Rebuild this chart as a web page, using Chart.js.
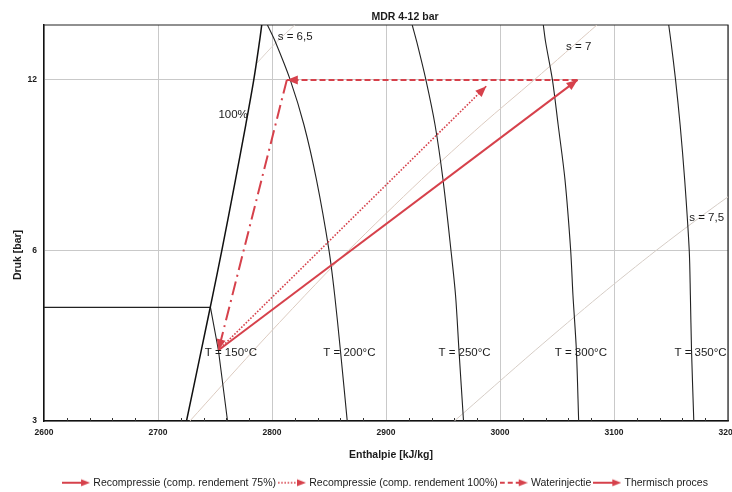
<!DOCTYPE html>
<html>
<head>
<meta charset="utf-8">
<title>MDR 4-12 bar</title>
<script src="https://cdn.jsdelivr.net/npm/chart.js@4.4.1/dist/chart.umd.min.js"></script>
<style>
  html, body { margin: 0; padding: 0; background: #fff; overflow: hidden; }
  #wrap { width: 732px; height: 492px; position: relative; }
</style>
</head>
<body>
<div id="wrap"><canvas id="chart"></canvas></div>
<script>
// ---- axis ticks ----
const enthalpyTicks = [2600, 2700, 2800, 2900, 3000, 3100, 3200];   // kJ/kg
const pressureTicks = [3, 6, 12];                                    // bar

// ---- steam curves, tabulated at these pressures (bar) ----
const pressures = [3, 4, 5, 6, 8, 10, 12, 14, 15];
// saturated vapour line (x = 100%)
const hSatVapour = [2725, 2738, 2748, 2756, 2768, 2777, 2784, 2789, 2791];
// isotherms, enthalpy in kJ/kg
const hT200 = [2866, 2860, 2855, 2850, 2839, 2828, 2816, 2803, 2796];
const hT250 = [2968, 2964, 2961, 2957, 2950, 2943, 2935, 2927, 2923];
const hT300 = [3069, 3067, 3064, 3062, 3057, 3051, 3046, 3040, 3038];
const hT350 = [3170, 3168, 3167, 3166, 3162, 3158, 3154, 3150, 3148];
// 150 °C: superheated branch, then the constant-pressure line through the wet region
const pT150 = [3, 4, 4.76, 4.76];
const hT150 = [2761, 2753, 2746, 2600];

// isentropes (kJ/kg·K)
const pS65 = [12.8, 14, 15];
const hS65 = [2786, 2804, 2820];
const pS70 = [3, 4, 5, 6, 8, 10, 12, 15];
const hS70 = [2728, 2784, 2829, 2867, 2931, 2984, 3030, 3085];
const pS75 = [3, 4, 5, 6, 7, 8];
const hS75 = [2960, 3031, 3088, 3137, 3181, 3221];

// ---- MDR process: 4 bar / 150 °C compressed to 12 bar ----
const hRecomp75 = [2753, 3068];   const pRecomp75 = [4, 12];
const hRecomp100 = [2753, 2988];  const pRecomp100 = [4, 11.7];
const hWaterInj = [3068, 2813];   const pWaterInj = [12, 12];
const hThermal = [2813, 2753];    const pThermal = [12, 4];

const FONT = 'Liberation Sans, Arial, Helvetica, sans-serif';
const RED = '#d6414b';
const GRID = '#c9c9c9';
const INK = '#1b1b1b';

Chart.defaults.font.family = FONT;
Chart.defaults.color = INK;

const xy = (hs, ps) => hs.map((h, i) => ({ x: h, y: ps[i] }));

// small line + arrowhead picture used as legend symbol
function legendIcon(dash, lineWidth) {
  const c = document.createElement('canvas');
  c.width = 28; c.height = 10;
  const g = c.getContext('2d');
  g.strokeStyle = RED; g.fillStyle = RED;
  g.lineWidth = lineWidth;
  g.setLineDash(dash);
  g.beginPath(); g.moveTo(0, 5); g.lineTo(20, 5); g.stroke();
  g.setLineDash([]);
  g.beginPath(); g.moveTo(28, 5); g.lineTo(19, 1.5); g.lineTo(19, 8.5); g.closePath(); g.fill();
  return c;
}

function processLine(label, hs, ps, dash, width, iconDash) {
  return {
    label, data: xy(hs, ps), showLine: true,
    borderColor: RED, backgroundColor: RED, borderWidth: width, borderDash: dash,
    pointRadius: 0, pointHoverRadius: 0, arrow: true,
    icon: legendIcon(iconDash, width)
  };
}

function curve(label, hs, ps, color, width, tension) {
  return {
    label, data: xy(hs, ps), showLine: true, tension,
    borderColor: color, borderWidth: width, pointRadius: 0, pointHoverRadius: 0
  };
}

// text placed on the diagram, anchored in (enthalpy, pressure)
const curveNotes = [
  { text: 's = 6,5', h: 2805, p: 14.3 },
  { text: 's = 7', h: 3058, p: 13.7 },
  { text: 's = 7,5', h: 3166, p: 6.85 },
  { text: '100%', h: 2753, p: 10.4 },
  { text: 'T = 150°C', h: 2741, p: 3.96 },
  { text: 'T = 200°C', h: 2845, p: 3.96 },
  { text: 'T = 250°C', h: 2946, p: 3.96 },
  { text: 'T = 300°C', h: 3048, p: 3.96 },
  { text: 'T = 350°C', h: 3153, p: 3.96 }
];

const diagramExtras = {
  id: 'diagramExtras',
  afterLayout(chart) {
    // nudge the chart title and the axis titles sideways
    const t = chart.titleBlock;
    if (t) { t.left += 41; t.right += 41; }
    const shift = (scale, dx, dy) => {
      if (!scale || scale._titleShifted) return;
      const draw = scale.drawTitle.bind(scale);
      scale.drawTitle = function () {
        this.ctx.save(); this.ctx.translate(dx, dy); draw(); this.ctx.restore();
      };
      scale._titleShifted = true;
    };
    shift(chart.scales.x, 5, 0);
    shift(chart.scales.y, 0, 32);
  },
  beforeDatasetsDraw(chart) {
    const { ctx, chartArea: a, scales: { x } } = chart;
    ctx.save();
    // top and right frame
    ctx.strokeStyle = '#222';
    ctx.lineWidth = 1.2;
    ctx.beginPath();
    ctx.moveTo(a.left, a.top); ctx.lineTo(a.right, a.top); ctx.lineTo(a.right, a.bottom);
    ctx.stroke();
    // minor ticks on the enthalpy axis, every 20 kJ/kg
    ctx.strokeStyle = '#333';
    ctx.lineWidth = 1;
    ctx.beginPath();
    for (let h = 2620; h < 3200; h += 20) {
      if (h % 100 === 0) continue;
      const px = Math.round(x.getPixelForValue(h)) + 0.5;
      ctx.moveTo(px, a.bottom); ctx.lineTo(px, a.bottom - 3);
    }
    ctx.stroke();
    ctx.restore();
  },
  afterDatasetsDraw(chart) {
    const { ctx, scales: { x, y } } = chart;
    ctx.save();
    // arrowheads at the end of each process step
    chart.data.datasets.forEach((ds, i) => {
      if (!ds.arrow) return;
      const pts = chart.getDatasetMeta(i).data;
      const a = pts[pts.length - 2], b = pts[pts.length - 1];
      const ang = Math.atan2(b.y - a.y, b.x - a.x);
      ctx.save();
      ctx.translate(b.x, b.y);
      ctx.rotate(ang);
      ctx.fillStyle = ds.borderColor;
      ctx.beginPath();
      ctx.moveTo(0, 0); ctx.lineTo(-11, -4.5); ctx.lineTo(-11, 4.5); ctx.closePath();
      ctx.fill();
      ctx.restore();
    });
    // curve names
    ctx.font = '11.5px ' + FONT;
    ctx.fillStyle = INK;
    ctx.textAlign = 'left';
    ctx.textBaseline = 'middle';
    curveNotes.forEach(n => {
      ctx.fillText(n.text, x.getPixelForValue(n.h), y.getPixelForValue(n.p));
    });
    ctx.restore();
  }
};

new Chart(document.getElementById('chart'), {
  type: 'scatter',
  data: {
    datasets: [
      processLine('Recompressie (comp. rendement 75%)', hRecomp75, pRecomp75, [], 2, []),
      processLine('Recompressie (comp. rendement 100%)', hRecomp100, pRecomp100, [1.6, 1.6], 1.6, [1.6, 1.6]),
      processLine('Waterinjectie', hWaterInj, pWaterInj, [6, 3], 2, [5, 3]),
      processLine('Thermisch proces', hThermal, pThermal, [14, 5, 2, 5], 2, []),
      curve('x = 100%', hSatVapour, pressures, '#111', 1.5, 0.3),
      curve('T = 150°C', hT150, pT150, '#222', 1.1, 0),
      curve('T = 200°C', hT200, pressures, '#222', 1.1, 0.3),
      curve('T = 250°C', hT250, pressures, '#222', 1.1, 0.3),
      curve('T = 300°C', hT300, pressures, '#222', 1.1, 0.3),
      curve('T = 350°C', hT350, pressures, '#222', 1.1, 0.3),
      curve('s = 6,5', hS65, pS65, '#ddd3cc', 1, 0.3),
      curve('s = 7', hS70, pS70, '#dccbc0', 1, 0.3),
      curve('s = 7,5', hS75, pS75, '#d6cdc6', 1, 0.3)
    ]
  },
  options: {
    responsive: true,
    maintainAspectRatio: false,
    animation: false,
    devicePixelRatio: 1,
    events: [],
    layout: { padding: { left: 0, right: 4, top: 0, bottom: -6 } },
    plugins: {
      title: {
        display: true,
        text: 'MDR 4-12 bar',
        color: INK,
        font: { size: 10.5, weight: 'bold' },
        padding: { top: 10.7, bottom: 1.7 }
      },
      legend: {
        position: 'bottom',
        fullSize: false,
        labels: {
          usePointStyle: true,
          pointStyleWidth: 24,
          padding: 4,
          color: INK,
          font: { size: 10.5 },
          generateLabels(chart) {
            return chart.data.datasets
              .map((ds, i) => ({ ds, i }))
              .filter(o => o.ds.icon)
              .map(o => ({
                text: o.ds.label, pointStyle: o.ds.icon, datasetIndex: o.i,
                fillStyle: RED, strokeStyle: RED, lineWidth: 0, hidden: false, fontColor: INK
              }));
          }
        }
      },
      tooltip: { enabled: false }
    },
    scales: {
      x: {
        type: 'linear',
        min: 2600, max: 3200,
        afterBuildTicks: s => { s.ticks = enthalpyTicks.map(v => ({ value: v })); },
        afterFit: s => { s.paddingRight = 0; s.height = 52.5; },
        ticks: {
          callback: v => String(v),
          autoSkip: false, maxRotation: 0, padding: 7,
          color: INK, font: { size: 8.5, weight: 'bold' }
        },
        grid: { color: GRID, lineWidth: 1, drawTicks: false },
        border: { color: '#111', width: 1.5 },
        title: {
          display: true, text: 'Enthalpie [kJ/kg]', color: INK,
          font: { size: 10.5, weight: 'bold' },
          padding: { top: 0, bottom: 12.2 }
        }
      },
      y: {
        type: 'logarithmic',
        min: 3, max: 15,
        afterBuildTicks: s => { s.ticks = pressureTicks.map(v => ({ value: v })); },
        afterFit: s => { s.width = 44; },
        ticks: {
          callback: v => String(v),
          padding: 7,
          color: INK, font: { size: 8.5, weight: 'bold' }
        },
        grid: { color: GRID, lineWidth: 1, drawTicks: false },
        border: { color: '#111', width: 1.5 },
        title: {
          display: true, text: 'Druk [bar]', color: INK,
          font: { size: 10.5, weight: 'bold' },
          padding: { top: 12, bottom: 0 }
        }
      }
    }
  },
  plugins: [diagramExtras]
});
</script>
</body>
</html>
